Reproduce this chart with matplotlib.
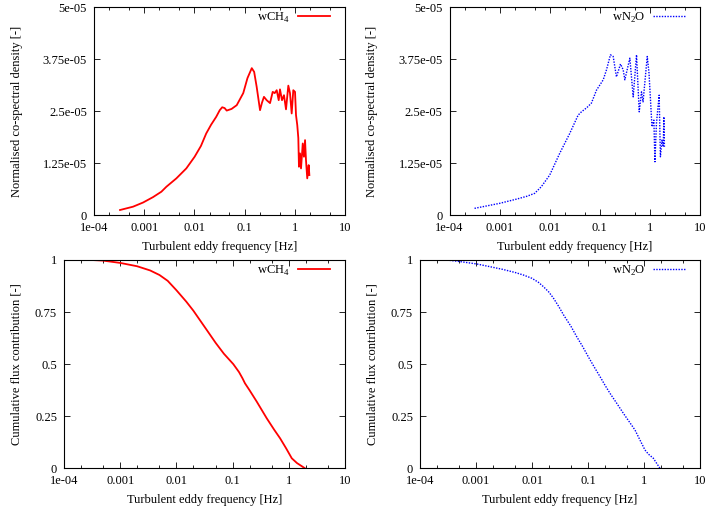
import matplotlib
matplotlib.use("Agg")
import matplotlib.pyplot as plt
from matplotlib.ticker import FixedLocator, LogLocator, NullFormatter

plt.rcParams['font.family'] = ['Liberation Serif', 'DejaVu Serif']
plt.rcParams['font.size'] = 9
plt.rcParams['mathtext.fontset'] = 'custom'
plt.rcParams['mathtext.rm'] = 'Liberation Serif'

# ---------------- data ----------------
ch4_spec_f = [3.3e-4, 6.0e-4, 9.5e-4, 1.5e-3, 2.2e-3, 2.77e-3, 4.37e-3, 6.9e-3, 0.0101, 0.0135,
              0.0172, 0.0215, 0.0272, 0.032, 0.0358, 0.040, 0.044, 0.055, 0.0697, 0.094,
              0.114, 0.139, 0.155, 0.174, 0.19, 0.203, 0.222, 0.243, 0.275, 0.321, 0.363,
              0.398, 0.436, 0.478, 0.507, 0.556, 0.609, 0.668, 0.743, 0.802, 0.867, 0.933,
              1.01, 1.057, 1.12, 1.175, 1.21, 1.27, 1.33, 1.44, 1.52, 1.60, 1.67, 1.77, 1.89, 1.95]
ch4_spec_v = [0.12, 0.20, 0.30, 0.43, 0.56, 0.68, 0.88, 1.12, 1.40, 1.66,
              1.96, 2.17, 2.36, 2.52, 2.59, 2.57, 2.51, 2.55, 2.64, 2.93,
              3.29, 3.53, 3.44, 3.08, 2.76, 2.52, 2.70, 2.84, 2.76, 2.69, 2.96,
              2.93, 3.0, 2.76, 3.02, 2.76, 2.88, 2.54, 3.11, 2.93, 2.44, 3.0,
              2.96, 2.40, 2.16, 1.85, 1.16, 1.48, 1.12, 1.72, 1.40, 1.80, 1.32, 0.88, 1.20, 0.96]

n2o_spec_f = [3.16e-4, 1e-3, 2.15e-3, 3.5e-3, 5.0e-3, 6.8e-3, 0.01, 0.0158, 0.0251, 0.0369,
              0.043, 0.055, 0.068, 0.0858, 0.117, 0.136, 0.163, 0.185, 0.215, 0.259,
              0.293, 0.316, 0.398, 0.464, 0.541, 0.612, 0.68, 0.73, 0.885, 0.96, 1.10,
              1.2, 1.26, 1.35, 1.53, 1.62, 1.74, 1.85, 1.90, 1.95]
n2o_spec_v = [0.16, 0.28, 0.38, 0.45, 0.52, 0.68, 0.96, 1.48, 1.96, 2.40,
              2.48, 2.58, 2.69, 3.0, 3.25, 3.49, 3.85, 3.81, 3.32, 3.63,
              3.49, 3.25, 3.77, 2.84, 3.85, 2.48, 2.96, 2.72, 3.81, 3.41, 2.12,
              2.28, 1.28, 2.20, 2.88, 1.40, 1.80, 1.64, 2.36, 1.64]

ch4_cum_f = [3.1e-4, 5e-4, 1e-3, 2e-3, 3.4e-3, 5e-3, 7e-3, 0.01, 0.015, 0.02,
             0.0347, 0.05, 0.07, 0.103, 0.13, 0.15, 0.166, 0.2, 0.269, 0.405,
             0.55, 0.70, 0.9, 1.13, 1.4, 1.94]
ch4_cum_v = [1.0, 0.997, 0.986, 0.970, 0.950, 0.928, 0.900, 0.855, 0.800, 0.757,
             0.664, 0.602, 0.550, 0.500, 0.462, 0.432, 0.408, 0.375, 0.32, 0.24,
             0.185, 0.144, 0.095, 0.048, 0.025, 0.0]

n2o_cum_f = [3.0e-4, 5e-4, 1.03e-3, 2e-3, 3e-3, 5e-3, 7e-3, 0.01, 0.013, 0.016,
             0.02, 0.024, 0.03, 0.0363, 0.05, 0.0628, 0.08, 0.101, 0.13, 0.164,
             0.2, 0.247, 0.33, 0.428, 0.55, 0.69, 0.85, 1.04, 1.2, 1.47, 1.7, 1.93]
n2o_cum_v = [1.0, 0.993, 0.981, 0.965, 0.955, 0.940, 0.928, 0.912, 0.893, 0.872,
             0.846, 0.818, 0.777, 0.738, 0.680, 0.632, 0.585, 0.536, 0.485, 0.44,
             0.40, 0.36, 0.31, 0.264, 0.222, 0.184, 0.135, 0.088, 0.068, 0.048, 0.022, 0.0]

xticks = [1e-4, 1e-3, 1e-2, 1e-1, 1, 10]
xticklabels = ['1e-04', '0.001', '0.01', '0.1', '1', '10']
spec_yticks = [0, 1.25e-5, 2.5e-5, 3.75e-5, 5e-5]
spec_yticklabels = ['0', '1.25e-05', '2.5e-05', '3.75e-05', '5e-05']
cum_yticks = [0, 0.25, 0.5, 0.75, 1]
cum_yticklabels = ['0', '0.25', '0.5', '0.75', '1']

xlabel = 'Turbulent eddy frequency [Hz]'
spec_ylabel = 'Normalised co-spectral density [-]'
cum_ylabel = 'Cumulative flux contribution [-]'
lab_ch4 = 'wCH$_4$'
lab_n2o = 'wN$_2$O'

# ---------------- figure ----------------
W, H = 708, 508
fig = plt.figure(figsize=(W / 100, H / 100), dpi=100)

def px_axes(l, t, r, b):
    return fig.add_axes([l / W, 1 - b / H, (r - l) / W, (b - t) / H])

panels = [
    # (left, top, right, bottom, ylabel x in px)
    (94, 7, 345, 215, 17),
    (449.5, 7, 700, 215, 372),
    (64, 260, 345, 468.3, 17),
    (420, 260, 700, 468.3, 372),
]
axes = [px_axes(l, t, r, b) for (l, t, r, b, _) in panels]
ax_tl, ax_tr, ax_bl, ax_br = axes

red = '#ff0000'
blue = '#0000ff'

ax_tl.plot(ch4_spec_f, [v * 1e-5 for v in ch4_spec_v], color=red, lw=1.3, label=lab_ch4)
ax_tr.plot(n2o_spec_f, [v * 1e-5 for v in n2o_spec_v], color=blue, lw=1.0,
           linestyle=(0, (1, 1)), label=lab_n2o)
ax_bl.plot(ch4_cum_f, ch4_cum_v, color=red, lw=1.3, label=lab_ch4)
ax_br.plot(n2o_cum_f, n2o_cum_v, color=blue, lw=1.0, linestyle=(0, (1, 1)), label=lab_n2o)

for ax, kind, (l, t, r, b, ylx) in zip(axes, ['s', 's', 'c', 'c'], panels):
    ax.set_xscale('log')
    ax.set_xlim(1e-4, 10)
    ax.xaxis.set_major_locator(FixedLocator(xticks))
    ax.set_xticklabels(xticklabels)
    ax.xaxis.set_minor_locator(LogLocator(base=10, subs=(2.0, 5.0)))
    ax.xaxis.set_minor_formatter(NullFormatter())
    if kind == 's':
        ax.set_ylim(0, 5e-5)
        ax.set_yticks(spec_yticks)
        ax.set_yticklabels(spec_yticklabels)
        ax.set_ylabel(spec_ylabel, va='center')
    else:
        ax.set_ylim(0, 1)
        ax.set_yticks(cum_yticks)
        ax.set_yticklabels(cum_yticklabels)
        ax.set_ylabel(cum_ylabel, va='center')
    ax.yaxis.set_label_coords(ylx / W, 1 - ((t + b) / 2) / H, transform=fig.transFigure)
    ax.set_xlabel(xlabel, labelpad=5)
    ax.tick_params(which='both', direction='in', top=True, right=True, colors='black')
    ax.tick_params(which='major', length=4, width=0.6, pad=5)
    ax.tick_params(which='minor', length=2, width=0.6)
    for s in ax.spines.values():
        s.set_linewidth(0.8)
    ax.legend(loc='upper right', frameon=False, markerfirst=False, handlelength=2.6,
              borderaxespad=0.0, borderpad=0.0, handletextpad=0.6, fontsize=9,
              bbox_to_anchor=(1 - 15 / (r - l), 1 - 3.5 / (b - t)),
              bbox_transform=ax.transAxes)

fig.savefig('out.png', dpi=100)
